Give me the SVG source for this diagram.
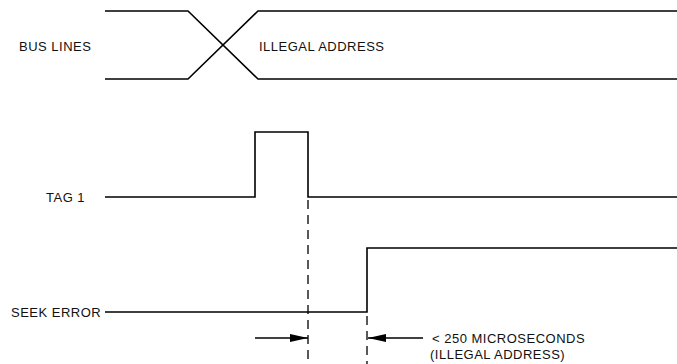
<svg xmlns="http://www.w3.org/2000/svg" width="677" height="364" viewBox="0 0 677 364">
<defs>
<style>
.sig{fill:none;stroke:#000;stroke-width:1.6}
.dash{fill:none;stroke:#000;stroke-width:1.3;stroke-dasharray:9,6}
.dim{fill:none;stroke:#000;stroke-width:1.3}
text{font-family:"Liberation Sans",Arial,sans-serif;font-size:13px;letter-spacing:0.5px;fill:#111}
</style>
<marker id="ahb" viewBox="0 0 18 8" refX="18" refY="4" markerWidth="18" markerHeight="8" markerUnits="userSpaceOnUse" orient="auto">
<path d="M0,0 L18,4 L0,8 Z" fill="#000"/>
</marker>
</defs>
<g id="bus-lines">
<text x="19" y="51">BUS LINES</text>
<path class="sig" d="M105,11 H188 L258,79 H677"/>
<path class="sig" d="M105,79 H188 L258,11 H677"/>
<text x="259" y="51">ILLEGAL ADDRESS</text>
</g>
<g id="tag1">
<text x="46" y="202">TAG 1</text>
<path class="sig" d="M105,197 H255 V132 H308 V197 H677"/>
</g>
<g id="seek-error">
<text x="11" y="317">SEEK ERROR</text>
<path class="sig" d="M105,312 H367 V248 H677"/>
</g>
<g id="connectors">
<path class="dash" d="M308,200 V364"/>
<path class="dash" d="M367,316 V364"/>
<path class="dim" d="M255,338 H308" marker-end="url(#ahb)"/>
<path class="dim" d="M423,338 H368" marker-end="url(#ahb)"/>
</g>
<g id="annotation">
<text x="432" y="343">&lt; 250 MICROSECONDS</text>
<text x="430" y="359">(ILLEGAL ADDRESS)</text>
</g>
</svg>
